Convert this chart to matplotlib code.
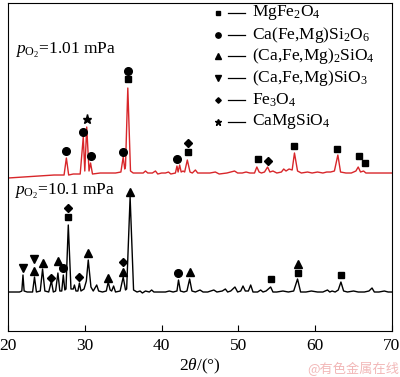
import matplotlib
matplotlib.use("Agg")
import matplotlib.pyplot as plt

plt.rcParams["font.family"] = ["Liberation Serif", "DejaVu Serif"]
plt.rcParams["mathtext.fontset"] = "custom"
plt.rcParams["mathtext.rm"] = "Liberation Serif"
plt.rcParams["mathtext.it"] = "Liberation Serif:italic"
plt.rcParams["font.size"] = 12.5

# ---- XRD pattern (2theta, intensity a.u.) ----
black_tt = [20.0, 21.5, 21.8, 21.95, 22.1, 22.5, 23.2, 23.45, 23.7, 24.2, 24.5, 24.8, 25.3, 25.65, 25.9,
            26.2, 26.5, 26.75, 27.0, 27.2, 27.4, 27.55, 27.85, 28.2, 28.5, 28.65, 28.85, 29.1, 29.3, 29.5,
            29.9, 30.2, 30.45, 30.8, 31.1, 31.55, 31.8, 32.3, 32.8, 33.05, 33.3, 33.5, 33.75, 34.0, 34.6,
            35.0, 35.3, 35.45, 35.9, 36.35, 36.8, 37.2, 37.5, 37.9, 38.4, 38.7, 39.0, 39.5, 40.5, 41.0,
            41.5, 42.0, 42.2, 42.45, 42.9, 43.3, 43.65, 43.95, 44.4, 45.0, 45.4, 46.0, 46.8, 47.2, 47.9,
            48.3, 48.6, 49.0, 49.55, 49.9, 50.3, 50.6, 50.9, 51.3, 51.6, 51.9, 52.5, 52.9, 53.2, 53.6,
            54.2, 54.5, 55.0, 55.8, 56.5, 57.2, 57.7, 58.1, 58.8, 59.5, 60.3, 61.0, 61.6, 61.9, 62.2,
            62.6, 63.0, 63.35, 63.7, 64.2, 65.0, 65.6, 66.4, 67.0, 67.4, 67.7, 68.3, 69.0, 69.5, 70.0]
black_int = [39, 39, 40, 56, 40, 39, 39, 54, 39, 40, 62, 40, 39, 50, 39,
             40, 58, 40, 40, 56, 41, 42, 106, 42, 42, 46, 40, 40, 48, 40,
             42, 50, 71, 44, 40, 46, 40, 39, 40, 49, 41, 40, 45, 39, 40,
             54, 41, 42, 134, 41, 39, 40, 38, 40, 39, 41, 39, 39, 39, 40,
             39, 40, 51, 40, 39, 40, 52, 40, 39, 41, 39, 39, 41, 39, 40,
             42, 39, 40, 44, 39, 40, 45, 40, 40, 46, 39, 39, 41, 39, 40,
             44, 39, 39, 40, 39, 40, 52, 39, 39, 40, 39, 39, 41, 39, 40,
             39, 41, 49, 40, 39, 40, 39, 39, 40, 43, 39, 39, 40, 39, 39]

red_tt = [20.0, 22.0, 24.0, 26.0, 27.3, 27.6, 27.9, 28.5, 29.4, 29.8, 30.0, 30.25, 30.55, 30.75, 31.0,
          32.0, 33.0, 34.0, 34.7, 35.0, 35.2, 35.3, 35.6, 35.95, 36.3, 37.0, 37.6, 37.9, 38.2, 38.8,
          39.2, 39.5, 40.0, 40.5, 40.9, 41.2, 41.8, 42.0, 42.15, 42.35, 42.55, 42.8, 43.0, 43.35, 43.7,
          44.0, 44.4, 44.7, 45.5, 46.3, 47.0, 47.5, 48.5, 49.5, 49.9, 50.5, 51.0, 51.5, 52.1, 52.4,
          52.7, 53.0, 53.4, 53.8, 54.1, 54.5, 55.0, 55.6, 55.9, 56.2, 56.6, 57.0, 57.3, 57.7, 58.2,
          59.0, 59.6, 60.3, 61.0, 61.5, 62.0, 62.5, 62.95, 63.3, 64.0, 64.7, 65.3, 65.6, 65.9, 66.3,
          66.6, 67.2, 68.0, 69.0, 70.0]
red_int = [153, 154, 155, 156, 156, 173, 156, 157, 157, 194, 160, 204, 160, 168, 157,
           158, 158, 158, 159, 174, 162, 165, 243, 160, 158, 158, 158, 160, 158, 158,
           160, 157, 158, 158, 159, 157, 158, 165, 159, 166, 159, 160, 159, 171, 159,
           158, 161, 158, 158, 158, 159, 157, 158, 160, 158, 158, 159, 158, 158, 164,
           159, 158, 159, 164, 159, 160, 158, 159, 162, 160, 162, 161, 178, 160, 158,
           159, 158, 159, 158, 159, 159, 160, 176, 159, 158, 158, 160, 164, 159, 160,
           158, 158, 158, 158, 158]

# ---- phase markers (2theta, height) ----
red_square = [(35.6, 252), (43.4, 179), (52.5, 172), (57.3, 185), (62.9, 182), (65.7, 175), (66.5, 168)]
red_circle = [(27.6, 180), (29.8, 199), (30.8, 175), (35.0, 179), (35.6, 260), (42.0, 172)]
red_diamond = [(43.4, 188), (53.8, 170)]
red_star = [(30.25, 212)]

black_square = [(27.85, 114), (54.2, 52), (57.7, 58), (63.35, 56)]
black_circle = [(27.2, 63), (42.2, 58)]
black_up = [(23.45, 60), (24.5, 68), (26.5, 70), (30.45, 78), (33.05, 53), (35.0, 59),
            (35.9, 139), (43.65, 59), (57.7, 67)]
black_down = [(21.9, 63), (23.45, 72)]
black_diamond = [(25.65, 53), (27.85, 123), (29.3, 54), (35.0, 69)]

phases = ["MgFe$_\\mathregular{2}$O$_\\mathregular{4}$",
          "Ca(Fe,Mg)Si$_\\mathregular{2}$O$_\\mathregular{6}$",
          "(Ca,Fe,Mg)$_\\mathregular{2}$SiO$_\\mathregular{4}$",
          "(Ca,Fe,Mg)SiO$_\\mathregular{3}$",
          "Fe$_\\mathregular{3}$O$_\\mathregular{4}$",
          "CaMgSiO$_\\mathregular{4}$"]
phase_markers = ["s", "o", "^", "v", "D", "*"]
phase_sizes = [5, 5.5, 5.5, 5.5, 4, 6.5]

fig = plt.figure(figsize=(4.0, 3.77), dpi=100)
ax = fig.add_axes([0.02, 0.122, 0.96, 0.870])

ax.plot(black_tt, black_int, color="black", lw=1.0)
ax.plot(red_tt, red_int, color="#d8262a", lw=1.0)

marker_sets = [(red_square + black_square, "s", 5), (red_circle + black_circle, "o", 5.5),
               (black_up, "^", 5.5), (black_down, "v", 5.5),
               (red_diamond + black_diamond, "D", 4), (red_star, "*", 6.5)]
for pts, m, ms in marker_sets:
    xs = [p[0] for p in pts]
    ys = [p[1] for p in pts]
    ax.plot(xs, ys, ls="none", marker=m, ms=ms, color="black")

# legend drawn by hand: marker, dash, phase name
for i, (name, m, ms) in enumerate(zip(phases, phase_markers, phase_sizes)):
    y = 0.970 - i * 0.0665
    ax.plot([0.547], [y], marker=m, ms=ms * 0.7, color="black", transform=ax.transAxes, clip_on=False)
    ax.plot([0.573, 0.617], [y, y], color="black", lw=0.9, transform=ax.transAxes)
    ax.text(0.635, y, name, transform=ax.transAxes, va="center", ha="left")

ax.text(0.018, 0.855, "$p_{\\mathrm{O}_2}$=1.01 mPa", transform=ax.transAxes, va="center")
ax.text(0.015, 0.424, "$p_{\\mathrm{O}_2}$=10.1 mPa", transform=ax.transAxes, va="center")

ax.set_xlim(20, 70)
ax.set_ylim(0, 328)
ax.set_xticks([20, 30, 40, 50, 60, 70])
ax.set_yticks([])
ax.tick_params(axis="x", direction="in", length=4, width=0.8, labelsize=12.5, pad=5)
for s in ax.spines.values():
    s.set_linewidth(0.8)
ax.set_xlabel("2$\\theta$/(°)", labelpad=2)

fig.text(0.998, 0.003, "@有色金属在线", color="#f2b8b8", fontsize=9.5, ha="right", va="bottom",
         family=["Noto Sans CJK SC", "DejaVu Sans"])

plt.savefig("out.png", dpi=100)
